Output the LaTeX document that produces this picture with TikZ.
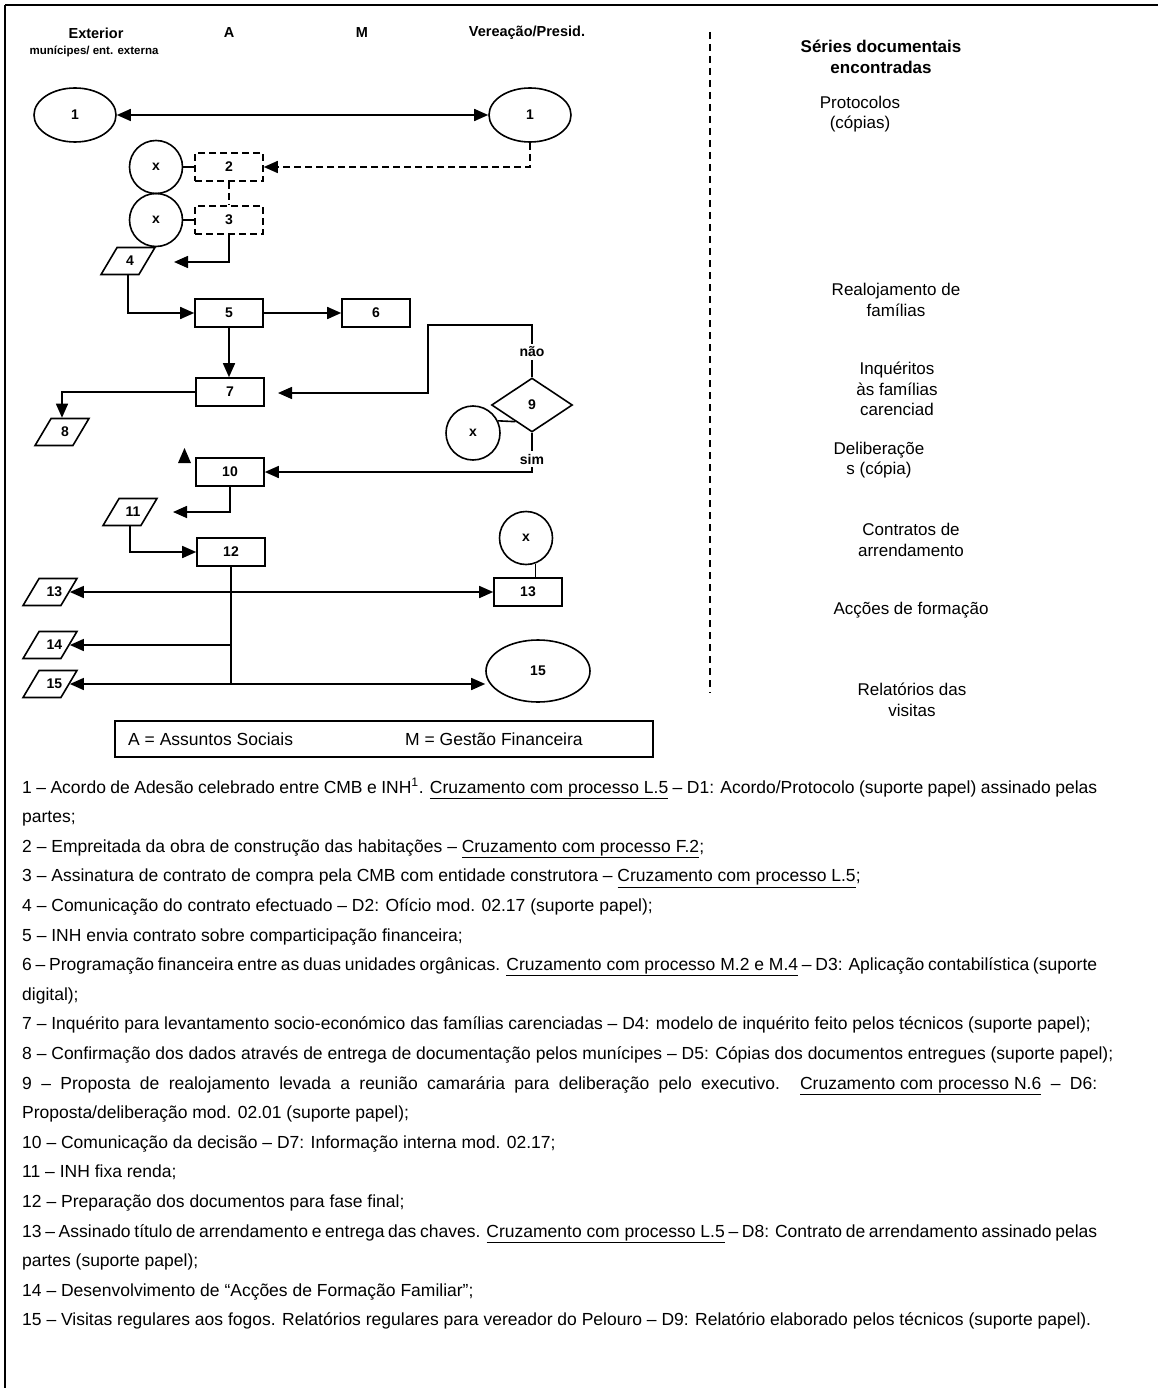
\documentclass[tikz,border=0pt]{standalone}
\usepackage{fontspec}
\setmainfont{Liberation Sans}
\usetikzlibrary{shapes.geometric,arrows.meta,calc}
\begin{document}
\begin{tikzpicture}[x=1pt,y=-1pt,
  every node/.style={inner sep=0pt},
  ln/.style={line width=1.6pt},
  arr/.style={ln,-{Triangle[length=14pt,width=12pt]}},
  dblarr/.style={ln,{Triangle[length=14pt,width=12pt]}-{Triangle[length=14pt,width=12pt]}},
  lbl/.style={font=\bfseries\fontsize{14}{16}\selectfont},
  boxn/.style={lbl,draw,ln,rectangle,minimum width=68pt,minimum height=28pt},
  dashln/.style={dash pattern=on 7pt off 4pt},
  dbox/.style={boxn,dashln},
  ell/.style={lbl,draw,ln,ellipse,minimum width=82pt,minimum height=54pt},
  xc/.style={lbl,draw,ln,circle,minimum size=53pt},
  par/.style={lbl,draw,ln,trapezium,trapezium left angle=60,trapezium right angle=120,trapezium stretches=true,minimum width=54pt,minimum height=27pt},
  hdr/.style={font=\bfseries\fontsize{14.5}{17}\selectfont},
  ser/.style={align=center,font=\fontsize{17}{20.5}\selectfont},
  body/.style={anchor=base west,font=\fontsize{17.5}{21}\selectfont},
]
\useasboundingbox (0,0) rectangle (1158,1388);
% frame lines
\draw[line width=2.2pt] (5,5) -- (1158,5);
\draw[line width=2pt] (5,5) -- (5,1388);

% headers
\node[hdr] (hExt) at (96,33) {Exterior};
\node[font=\bfseries\fontsize{11.5}{13}\selectfont] (hMun) at (94,51) {munícipes/ ent. externa};
\node[hdr] (hA) at (229,33) {A};
\node[hdr] (hM) at (362,33) {M};
\node[hdr] (hV) at (527,33) {Vereação/Presid.};

% separator
\draw[line width=1.5pt,dash pattern=on 7pt off 5pt] (710,32) -- (710,693);

% right column
\node[ser,font=\bfseries\fontsize{17}{20.5}\selectfont] (sr) at (881,57) {Séries documentais\\encontradas};
\node[ser] (sProt) at (860,114) {Protocolos\\(cópias)};
\node[ser] (sReal) at (896,300) {Realojamento de\\famílias};
\node[ser] (sInq) at (897,389) {Inquéritos\\às famílias\\carenciad};
\node[ser] (sDel) at (879,460) {Deliberaçõe\\s (cópia)};
\node[ser] (sCon) at (911,540) {Contratos de\\arrendamento};
\node[ser] (sAcc) at (911,610) {Acções de formação};
\node[ser] (sRel) at (912,700) {Relatórios das\\visitas};

% diagram
\node[ell] (e1L) at (75,115) {1};
\node[ell] (e1R) at (530,115) {1};
\draw[dblarr] (e1L) -- (e1R);
\node[xc] (x1) at (156,167) {x};
\node[xc] (x2) at (156,220) {x};
\node[dbox] (b2) at (229,167) {2};
\node[dbox] (b3) at (229,220) {3};
\draw[ln] (x1.east) -- (b2.west);
\draw[ln] (x2.east) -- (b3.west);
\draw[ln,dashln] (b2.south) -- (b3.north);
\draw[arr,dashln] (e1R.south) |- (b2.east);

\coordinate (a4) at (174,262);
\draw[arr] (b3.south) |- (a4);
\node[par] (p4) at (128,261) {\phantom{0}};
\node[lbl] (p4l) at ([xshift=2pt]p4.center) {4};
\node[boxn] (b5) at (229,313) {5};
\draw[arr] (p4.south) |- (b5.west);
\node[boxn] (b6) at (376,313) {6};
\draw[arr] (b5.east) -- (b6.west);
\node[boxn] (b7) at (230,392) {7};
\draw[arr] (b5.south) -- (b5.south |- b7.north);
\node[par] (p8) at (62,432) {\phantom{0}};
\node[lbl] (p8l) at ([xshift=3pt]p8.center) {8};
\draw[arr] (b7.west) -| (p8.north);

\node[lbl,draw,ln,diamond,minimum width=81pt,minimum height=54pt] (d9) at (532,405) {9};
\node[lbl,inner sep=3pt] (nao) at (532,352) {não};
\coordinate (q1) at (428,325);
\coordinate (a7) at (278,393);
\draw[ln] (d9.north) -- (nao.south);
\draw[arr] (nao.north) |- (q1) |- (a7);
\node[lbl,inner sep=3pt] (sim) at (532,459) {sim};
\draw[ln] (d9.south) -- (sim.north);
\node[boxn] (b10) at (230,472) {10};
\draw[arr] (sim.south) |- (b10.east);
\node[xc,minimum size=54pt] (x3) at (473,433) {x};
\coordinate (d9e) at ($(d9.west)!0.6!(d9.south)$);
\draw[ln] (x3.26) -- (d9e);
\fill (178,463) -- (191,463) -- (184.5,448) -- cycle;

\coordinate (a11) at (173,512);
\draw[arr] (b10.south) |- (a11);
\node[par] (p11) at (130,512) {\phantom{0}};
\node[lbl] (p11l) at ([xshift=3pt]p11.center) {11};
\node[boxn] (b12) at (231,552) {12};
\draw[arr] (p11.south) |- (b12.west);

\node[par] (p13) at (50,592) {\phantom{0}};
\node[lbl] (p13l) at ([xshift=4.5pt]p13.center) {13};
\node[boxn] (b13) at (528,592) {13};
\draw[dblarr] (p13.east) -- (p13.east -| b13.west);
\node[xc] (x4) at (526,538) {x};
\draw[ln] (x4.-70) -- (x4.-70 |- b13.north);
\node[par] (p14) at (50,645) {\phantom{0}};
\node[lbl] (p14l) at ([xshift=4.5pt]p14.center) {14};
\node[par] (p15) at (50,684) {\phantom{0}};
\node[lbl] (p15l) at ([xshift=4.5pt]p15.center) {15};
\node[ell,minimum width=104pt,minimum height=62pt] (e15) at (538,671) {15};
\draw[ln] (b12.south) -- (b12.south |- p15.east);
\draw[arr] (b12.south |- p14.east) -- (p14.east);
\draw[dblarr] (p15.east) -- (p15.east -| e15.west);

% legend
\node[draw,line width=1.5pt,minimum width=538pt,minimum height=36pt,anchor=north west] (leg) at (114,720) {};
\node[anchor=west,font=\fontsize{17.5}{21}\selectfont] (legA) at (128,739) {A = Assuntos Sociais};
\node[anchor=west,font=\fontsize{17.5}{21}\selectfont] (legM) at (405,739) {M = Gestão Financeira};

% body text
\node[body] (t0) at (22,793) {\makebox[1075pt][s]{1 – Acordo de Adesão celebrado entre CMB e INH\textsuperscript{1}. \underline{Cruzamento com processo L.5} – D1: Acordo/Protocolo (suporte papel) assinado pelas}};
\node[body] (t1) at (22,822.6) {partes;};
\node[body] (t2) at (22,852.2) {2 – Empreitada da obra de construção das habitações – \underline{Cruzamento com processo F.2};};
\node[body] (t3) at (22,881.8) {3 – Assinatura de contrato de compra pela CMB com entidade construtora – \underline{Cruzamento com processo L.5};};
\node[body] (t4) at (22,911.4) {4 – Comunicação do contrato efectuado – D2: Ofício mod. 02.17 (suporte papel);};
\node[body] (t5) at (22,941) {5 – INH envia contrato sobre comparticipação financeira;};
\node[body] (t6) at (22,970.6) {\makebox[1075pt][s]{6 – Programação financeira entre as duas unidades orgânicas. \underline{Cruzamento com processo M.2 e M.4} – D3: Aplicação contabilística (suporte}};
\node[body] (t7) at (22,1000.2) {digital);};
\node[body] (t8) at (22,1029.8) {7 – Inquérito para levantamento socio-económico das famílias carenciadas – D4: modelo de inquérito feito pelos técnicos (suporte papel);};
\node[body] (t9) at (22,1059.4) {8 – Confirmação dos dados através de entrega de documentação pelos munícipes – D5: Cópias dos documentos entregues (suporte papel);};
\node[body] (t10) at (22,1089) {\makebox[1075pt][s]{9 – Proposta de realojamento levada a reunião camarária para deliberação pelo executivo. \underline{Cruzamento com processo N.6} – D6:}};
\node[body] (t11) at (22,1118.6) {Proposta/deliberação mod. 02.01 (suporte papel);};
\node[body] (t12) at (22,1148.2) {10 – Comunicação da decisão – D7: Informação interna mod. 02.17;};
\node[body] (t13) at (22,1177.8) {11 – INH fixa renda;};
\node[body] (t14) at (22,1207.4) {12 – Preparação dos documentos para fase final;};
\node[body] (t15) at (22,1237) {\makebox[1075pt][s]{13 – Assinado título de arrendamento e entrega das chaves. \underline{Cruzamento com processo L.5} – D8: Contrato de arrendamento assinado pelas}};
\node[body] (t16) at (22,1266.6) {partes (suporte papel);};
\node[body] (t17) at (22,1296.2) {14 – Desenvolvimento de “Acções de Formação Familiar”;};
\node[body] (t18) at (22,1325.8) {15 – Visitas regulares aos fogos. Relatórios regulares para vereador do Pelouro – D9: Relatório elaborado pelos técnicos (suporte papel).};
\end{tikzpicture}
\end{document}
